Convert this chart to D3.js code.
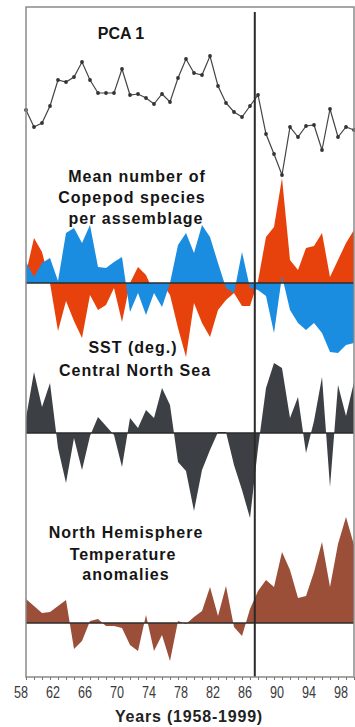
<!DOCTYPE html>
<html>
<head>
<meta charset="utf-8">
<script src="https://cdn.jsdelivr.net/npm/d3@7"></script>
<style>
    body { margin: 0; background: #fff; }
    svg { display: block; }
    text { font-family: "Liberation Sans", Arial, sans-serif; }
</style>
</head>
<body>
<svg width="355" height="727"></svg>
<script>
var years = [1958, 1959, 1960, 1961, 1962, 1963, 1964, 1965, 1966, 1967,
    1968, 1969, 1970, 1971, 1972, 1973, 1974, 1975, 1976, 1977,
    1978, 1979, 1980, 1981, 1982, 1983, 1984, 1985, 1986, 1987,
    1988, 1989, 1990, 1991, 1992, 1993, 1994, 1995, 1996, 1997,
    1998, 1999]

var pca1 = [0, -0.17, -0.13, 0.04, 0.30, 0.28, 0.33, 0.48, 0.30, 0.17,
    0.17, 0.17, 0.41, 0.15, 0.16, 0.12, 0.06, 0.16, 0.08, 0.32,
    0.51, 0.37, 0.35, 0.54, 0.24, 0.07, -0.02, -0.07, 0.04, 0.15,
    -0.24, -0.44, -0.65, -0.17, -0.27, -0.16, -0.15, -0.40, 0.01, -0.27,
    -0.17, -0.20]

// copepod species, two series (red drawn first, blue on top)
var copepodRed = [0.10, 0.45, 0.31, 0.00, -0.48, -0.18, -0.38, -0.55, -0.12, -0.27,
    -0.22, -0.05, -0.39, 0.00, 0.16, 0.08, -0.10, 0.00, -0.12, -0.45,
    -0.74, -0.20, -0.40, -0.54, -0.27, -0.17, -0.10, -0.23, -0.23, 0.02,
    0.46, 0.56, 1.05, 0.23, 0.13, 0.35, 0.37, 0.50, 0.06, 0.23,
    0.40, 0.53]

var copepodBlue = [0.21, 0.06, 0.20, 0.25, 0.02, 0.50, 0.55, 0.40, 0.58, 0.16,
    0.15, 0.21, 0.26, -0.29, -0.10, -0.32, -0.10, -0.24, 0.00, 0.38,
    0.50, 0.30, 0.58, 0.46, 0.20, -0.05, -0.10, 0.31, -0.05, -0.07,
    -0.13, -0.50, 0.07, -0.27, -0.40, -0.47, -0.40, -0.50, -0.69, -0.70,
    -0.62, -0.60]

var sst = [0.15, 0.61, 0.26, 0.50, -0.15, -0.50, -0.05, -0.37, -0.03, 0.16,
    0.07, -0.02, -0.34, 0.15, 0.05, 0.23, 0.15, 0.45, 0.28, -0.29,
    -0.38, -0.78, -0.37, -0.17, 0.01, 0.01, -0.32, -0.57, -0.85, -0.15,
    0.45, 0.70, 0.65, 0.15, 0.36, -0.20, 0.12, 0.56, -0.54, 0.48,
    0.17, 0.51]

var nhTemp = [0.24, 0.17, 0.10, 0.11, 0.17, 0.23, -0.26, -0.18, 0.02, 0.04,
    -0.03, -0.03, -0.05, -0.22, -0.28, 0.08, -0.28, -0.12, -0.38, 0.02,
    -0.01, 0.06, 0.12, 0.36, 0.07, 0.37, -0.04, -0.13, 0.14, 0.32,
    0.43, 0.36, 0.71, 0.53, 0.25, 0.27, 0.51, 0.81, 0.36, 0.79,
    1.06, 0.78]

var tickYears = [1958, 1962, 1966, 1970, 1974, 1978, 1982, 1986, 1990, 1994, 1998]
var shiftYear = 1986.6

var svg = d3.select('svg')

var mapX = d3.scaleLinear().domain([1958, 1999]).range([26, 354])

// each panel: value 0 sits on its baseline, 1 unit = 100px
var mapPca = d3.scaleLinear().domain([-1, 1]).range([210, 10])
var mapCop = d3.scaleLinear().domain([-1, 1]).range([383, 183])
var mapSst = d3.scaleLinear().domain([-1, 1]).range([533, 333])
var mapNh = d3.scaleLinear().domain([-1, 1]).range([723, 523])

function drawArea(values, mapY, color) {
    var area = d3.area()
        .x(function(d, i){ return mapX(years[i]) })
        .y0(mapY(0))
        .y1(function(d){ return mapY(d) })
    svg.append('path')
        .datum(values)
        .attr('d', area)
        .attr('fill', color)
}

drawArea(copepodRed, mapCop, '#e8420c')
drawArea(copepodBlue, mapCop, '#1b8de0')
drawArea(sst, mapSst, '#3c3f43')
drawArea(nhTemp, mapNh, '#9b4f38')

// zero lines
;[mapCop, mapSst, mapNh].forEach(function(m){
    svg.append('line')
        .attr('x1', 26).attr('x2', 354)
        .attr('y1', m(0)).attr('y2', m(0))
        .attr('stroke', '#2b2b2b')
        .attr('stroke-width', 1.5)
})

// PCA 1 line with dots
var line = d3.line()
    .x(function(d, i){ return mapX(years[i]) })
    .y(function(d){ return mapPca(d) })

svg.append('path')
    .datum(pca1)
    .attr('d', line)
    .attr('fill', 'none')
    .attr('stroke', '#444')
    .attr('stroke-width', 1.2)

svg.selectAll('circle.pca')
    .data(pca1)
    .enter()
    .append('circle')
    .attr('class', 'pca')
    .attr('cx', function(d, i){ return mapX(years[i]) })
    .attr('cy', function(d){ return mapPca(d) })
    .attr('r', 1.9)
    .attr('fill', '#333')

// regime shift line
svg.append('line')
    .attr('x1', mapX(shiftYear)).attr('x2', mapX(shiftYear))
    .attr('y1', 12).attr('y2', 677)
    .attr('stroke', '#2a2a2a')
    .attr('stroke-width', 2)

// frame
svg.append('rect')
    .attr('x', 26).attr('y', 7)
    .attr('width', 328).attr('height', 670)
    .attr('fill', 'none')
    .attr('stroke', '#8a8a8a')
    .attr('stroke-width', 1.5)

// x axis: yearly ticks under the frame, labels every 4 years
var axis = d3.axisBottom(mapX)
    .tickValues(years)
    .tickSize(3)
    .tickFormat('')

var axisG = svg.append('g')
    .attr('transform', 'translate(0, 677)')
    .call(axis)
axisG.select('.domain').remove()
axisG.selectAll('line').attr('stroke', '#777')

svg.selectAll('text.tick-lab')
    .data(tickYears)
    .enter()
    .append('text')
    .attr('class', 'tick-lab')
    .attr('x', function(d){ return mapX(d) - 5 })
    .attr('y', 698)
    .attr('text-anchor', 'middle')
    .attr('font-size', 16)
    .attr('textLength', 14)
    .attr('lengthAdjust', 'spacingAndGlyphs')
    .attr('fill', '#3a3a3a')
    .text(function(d){ return String(d).slice(2) })

svg.append('text')
    .attr('x', 189).attr('y', 722)
    .attr('text-anchor', 'middle')
    .attr('font-size', 16)
    .attr('font-weight', 'bold')
    .attr('letter-spacing', 0.8)
    .attr('fill', '#222')
    .text('Years (1958-1999)')

// panel titles
var labels = [
    {t: 'PCA 1', x: 121, y: 39},
    {t: 'Mean number of', x: 137, y: 182},
    {t: 'Copepod species', x: 132, y: 203},
    {t: 'per assemblage', x: 136, y: 224},
    {t: 'SST (deg.)', x: 133, y: 353},
    {t: 'Central North Sea', x: 135, y: 376},
    {t: 'North Hemisphere', x: 126, y: 538},
    {t: 'Temperature', x: 123, y: 560},
    {t: 'anomalies', x: 126, y: 580}
]

svg.selectAll('text.lab')
    .data(labels)
    .enter()
    .append('text')
    .attr('class', 'lab')
    .attr('x', function(d){ return d.x })
    .attr('y', function(d){ return d.y })
    .attr('text-anchor', 'middle')
    .attr('font-size', 16)
    .attr('font-weight', 'bold')
    .attr('letter-spacing', function(d){ return d.t == 'PCA 1' ? 0 : 1 })
    .attr('fill', '#151515')
    .text(function(d){ return d.t })
</script>
</body>
</html>
